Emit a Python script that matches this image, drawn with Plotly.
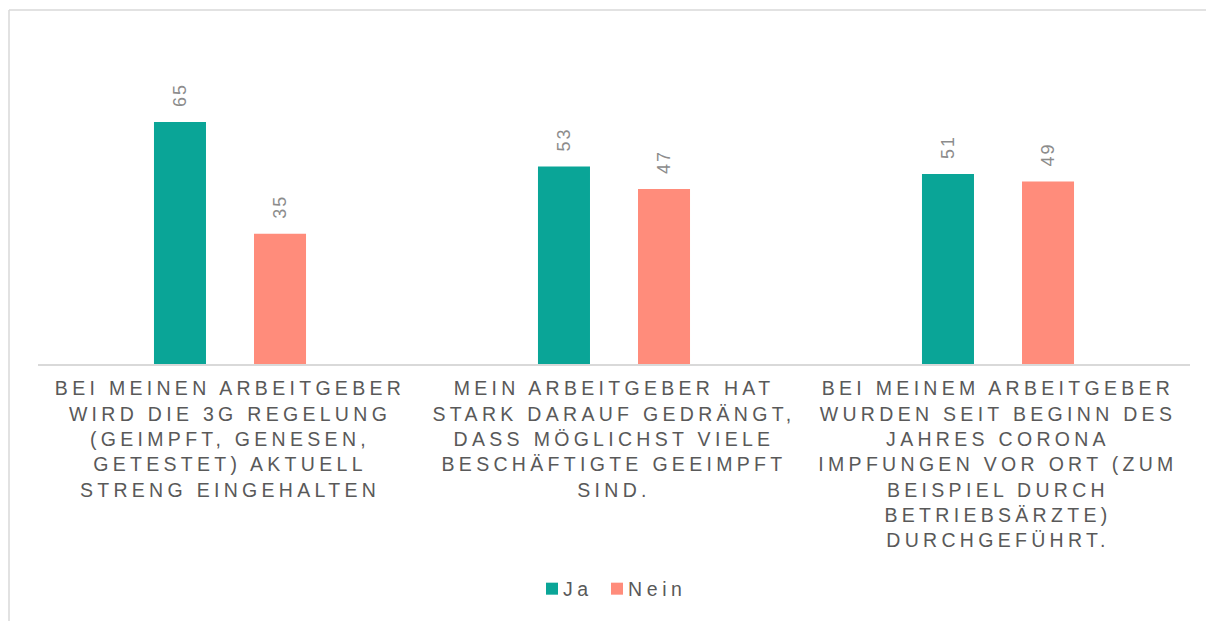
import plotly.graph_objects as go

categories = [
    "BEI MEINEN ARBEITGEBER<br>WIRD DIE 3G REGELUNG<br>(GEIMPFT, GENESEN,<br>GETESTET) AKTUELL<br>STRENG EINGEHALTEN",
    "MEIN ARBEITGEBER HAT<br>STARK DARAUF GEDRÄNGT,<br>DASS MÖGLICHST VIELE<br>BESCHÄFTIGTE GEEIMPFT<br>SIND.",
    "BEI MEINEM ARBEITGEBER<br>WURDEN SEIT BEGINN DES<br>JAHRES CORONA<br>IMPFUNGEN VOR ORT (ZUM<br>BEISPIEL DURCH<br>BETRIEBSÄRZTE)<br>DURCHGEFÜHRT.",
]
ja = [65, 53, 51]
nein = [35, 47, 49]

TEAL = "#0AA597"
SALMON = "#FF8C7B"
TEXT = "#595959"
LABEL = "#8C8C8C"
FONT = "Liberation Sans, Arial"

fig = go.Figure()
fig.add_trace(go.Bar(name="Ja", x=categories, y=ja, marker_color=TEAL,
                     marker_line_width=0))
fig.add_trace(go.Bar(name="Nein", x=categories, y=nein, marker_color=SALMON,
                     marker_line_width=0))

# value labels (rotated)
for i, cat in enumerate(categories):
    for vals, off in ((ja, -0.5), (nein, 0.5)):
        fig.add_annotation(
            x=cat, y=vals[i], xref="x", yref="y", text=str(vals[i]),
            textangle=-90, showarrow=False, yanchor="bottom",
            xshift=off * 100, yshift=15,
            font=dict(family=FONT, size=18, color=LABEL),
        )

W, H = 1206, 613
ml, mr, mt, mb = 30, 24, 32, 257
pw, ph = W - ml - mr, H - mt - mb

# outer chart border (top and left edges visible)
ytop = 1 + (mt - 2) / ph
fig.add_shape(type="line", xref="paper", yref="paper",
              x0=(1 - ml) / pw, x1=(W + 5 - ml) / pw, y0=ytop, y1=ytop,
              line=dict(color="#D9D9D9", width=1.5))
fig.add_shape(type="line", xref="paper", yref="paper",
              x0=(1 - ml) / pw, x1=(1 - ml) / pw,
              y0=ytop, y1=-(H + 5 - mt - ph) / ph,
              line=dict(color="#D9D9D9", width=1.5))

fig.update_layout(
    width=W, height=H,
    margin=dict(l=ml, r=mr, t=mt, b=mb, autoexpand=False),
    paper_bgcolor="white", plot_bgcolor="white",
    barmode="group", bargap=0.479, bargroupgap=0.48,
    font=dict(family=FONT, color=TEXT, size=19.5),
    showlegend=True,
    legend=dict(orientation="h", x=(524 - ml) / pw, xanchor="left",
                y=(356 - 581) / ph, yanchor="middle",
                font=dict(size=19.5, color=TEXT), itemwidth=30,
                entrywidth=20, traceorder="normal"),
    xaxis=dict(showline=True, linecolor="#D9D9D9", linewidth=1.5,
               showgrid=False, ticks="", tickangle=0, ticklabelstandoff=6,
               automargin=False,
               tickfont=dict(size=19.5, color=TEXT)),
    yaxis=dict(range=[0, 87], visible=False, showgrid=False, zeroline=False),
)

post = (
    "var s=document.createElement('style');"
    "s.textContent='.xtick text{letter-spacing:4.3px}"
    ".legendtext{letter-spacing:4.6px;transform:translateX(-9px)}"
    ".legend .scrollbox{clip-path:none !important}"
    ".annotation-text{letter-spacing:2px}';"
    "document.head.appendChild(s);"
)

fig.write_html("out.html", post_script=post)
